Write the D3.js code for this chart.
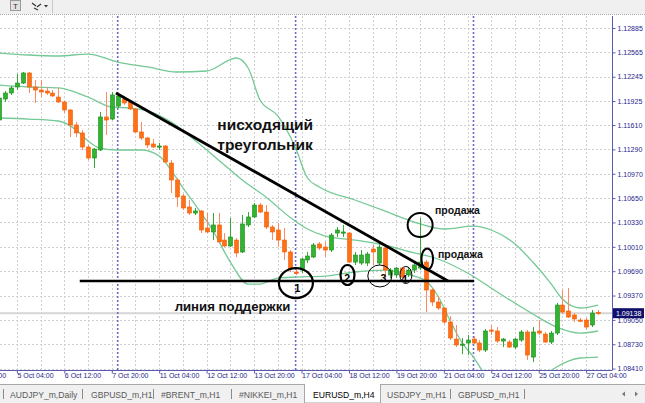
<!DOCTYPE html>
<html><head><meta charset="utf-8">
<script src="https://cdn.jsdelivr.net/npm/d3@7"></script>
<style>html,body{margin:0;padding:0;background:#fff;overflow:hidden}</style>
</head><body><svg id="c" width="645" height="403"></svg>
<script>
// ---------- DATA ----------
const firstBar = -20; // bar index of first candle (index 0 = 10 Oct 00:00, H4 bars)
const open = [
1.11676,1.11952,1.12031,1.12110,1.12162,1.12294,1.12110,1.12070,1.12057,1.12031,
1.11978,1.11913,1.11808,1.11611,1.11506,1.11321,1.11177,1.11282,1.11716,1.11689,
1.11860,1.11952,1.11913,1.11821,1.11519,1.11440,1.11361,1.11321,1.11335,1.11111,
1.10888,1.10678,1.10533,1.10454,1.10481,1.10257,1.10205,1.10297,1.10099,1.10021,
1.10099,1.09942,1.10297,1.10402,1.10559,1.10467,1.10270,1.10231,1.10099,1.09942,
1.09679,1.09705,1.09837,1.09876,1.10047,1.10007,1.09968,1.10191,1.10191,1.10191,
1.09810,1.09797,1.09797,1.09981,1.09797,1.09994,1.09640,1.09640,1.09731,1.09640,
1.09705,1.09731,1.09810,1.09443,1.09285,1.09206,1.09022,1.08798,1.08720,1.08746,
1.08798,1.08746,1.08654,1.08917,1.08904,1.08772,1.08759,1.08693,1.08785,1.08891,
1.08562,1.08904,1.08864,1.08759,1.08877,1.09245,1.09167,1.09114,1.09048,1.09048,
1.08983,1.09150];
const high = [
1.11978,1.12057,1.12123,1.12281,1.12307,1.12307,1.12202,1.12202,1.12110,1.12070,
1.12097,1.11926,1.11821,1.11650,1.11545,1.11348,1.11308,1.11781,1.12044,1.12044,
1.12031,1.11992,1.11939,1.11834,1.11650,1.11453,1.11427,1.11374,1.11348,1.11151,
1.10914,1.10704,1.10625,1.10520,1.10494,1.10454,1.10454,1.10454,1.10191,1.10389,
1.10126,1.10428,1.10467,1.10586,1.10586,1.10559,1.10297,1.10323,1.10257,1.09968,
1.09745,1.09863,1.09942,1.10060,1.10073,1.10073,1.10191,1.10270,1.10297,1.10205,
1.09942,1.09968,1.09942,1.10034,1.10060,1.10007,1.09731,1.09745,1.09745,1.09745,
1.09810,1.10389,1.09837,1.09469,1.09364,1.09219,1.09101,1.08983,1.08812,1.08851,
1.08838,1.08785,1.08930,1.08983,1.08956,1.08812,1.08785,1.08812,1.08917,1.08917,
1.08956,1.09048,1.08891,1.08904,1.09272,1.09443,1.09469,1.09140,1.09075,1.09075,
1.09180,1.09180];
const low = [
1.11663,1.11913,1.12005,1.12070,1.12149,1.12031,1.11900,1.11978,1.12005,1.11978,
1.11900,1.11768,1.11453,1.11453,1.11282,1.11151,1.11045,1.11269,1.11479,1.11676,
1.11834,1.11873,1.11808,1.11506,1.11413,1.11308,1.11308,1.11282,1.11111,1.10717,
1.10533,1.10494,1.10428,1.10428,1.10191,1.10191,1.10099,1.10060,1.10007,1.10007,
1.09876,1.09929,1.10270,1.10389,1.10454,1.10244,1.10099,1.10007,1.09837,1.09679,
1.09640,1.09666,1.09797,1.09863,1.09968,1.09876,1.09942,1.10139,1.10139,1.09797,
1.09771,1.09771,1.09758,1.09771,1.09771,1.09600,1.09600,1.09600,1.09600,1.09613,
1.09666,1.09705,1.09153,1.09232,1.09180,1.08996,1.08785,1.08693,1.08601,1.08588,
1.08733,1.08627,1.08627,1.08851,1.08746,1.08693,1.08680,1.08667,1.08759,1.08522,
1.08496,1.08851,1.08746,1.08733,1.08851,1.09127,1.09075,1.09022,1.09022,1.08917,
1.08956,1.09114];
const close = [
1.11965,1.12031,1.12097,1.12162,1.12294,1.12110,1.12070,1.12044,1.12031,1.11992,
1.11913,1.11808,1.11611,1.11506,1.11321,1.11177,1.11295,1.11716,1.11676,1.12005,
1.11992,1.11900,1.11821,1.11519,1.11440,1.11348,1.11321,1.11335,1.11124,1.10888,
1.10665,1.10520,1.10454,1.10481,1.10231,1.10205,1.10297,1.10073,1.10021,1.10139,
1.09929,1.10310,1.10402,1.10559,1.10467,1.10270,1.10205,1.10099,1.09942,1.09718,
1.09666,1.09850,1.09889,1.10034,1.09994,1.09968,1.10165,1.10231,1.10205,1.09810,
1.09902,1.09902,1.09915,1.09942,1.10007,1.09705,1.09705,1.09731,1.09613,1.09705,
1.09771,1.09810,1.09443,1.09285,1.09206,1.09022,1.08812,1.08720,1.08733,1.08785,
1.08746,1.08654,1.08904,1.08904,1.08772,1.08798,1.08693,1.08798,1.08891,1.08588,
1.08891,1.08877,1.08759,1.08877,1.09245,1.09153,1.09088,1.09062,1.09035,1.08956,
1.09140,1.09138];

// Bollinger bands, sampled at bar indices
const upperIdx = [-20,-15,-10,-5,0,5,10,15,20,22,24,27,30,32,34,40,45,50,55,60,63,67,70,73,75,78,81];
const upperVal = [1.12557,1.12530,1.12517,1.12543,1.12438,1.12373,1.12307,1.12320,1.12491,1.12360,1.11939,1.11729,1.11308,1.10914,1.10796,1.10625,1.10481,1.10336,1.10244,1.10283,1.10231,1.10047,1.09810,1.09534,1.09324,1.09206,1.09245];
const midIdx = [-20,-15,-10,-5,-1,2,5,9,14,18,21,25,29,32,35,40,45,50,54,59,64,70,74,78,81];
const midVal = [1.12136,1.12110,1.12097,1.11978,1.11847,1.11834,1.11795,1.11650,1.11348,1.11085,1.10888,1.10665,1.10402,1.10244,1.10152,1.10099,1.10034,1.09929,1.09850,1.09666,1.09416,1.09127,1.08956,1.08877,1.08904];
const lowerIdx = [-20,-15,-10,-7,-5,-3,0,4,7,9,11,13,16,19,22,24,27,30,35,40,45,50,52,54,56,58,60,62,65,70,72,74,76,78,81];
const lowerVal = [1.11703,1.11689,1.11663,1.11545,1.11400,1.11308,1.11282,1.11282,1.11203,1.11019,1.10783,1.10572,1.10231,1.09810,1.09521,1.09521,1.09600,1.09613,1.09626,1.09679,1.09705,1.09626,1.09561,1.09364,1.09048,1.08759,1.08562,1.08326,1.08155,1.08194,1.08326,1.08431,1.08509,1.08549,1.08562];

const priceTicks = [1.12885,1.12565,1.12245,1.11925,1.11610,1.11290,1.10970,1.10650,1.10330,1.10010,1.09690,1.09370,1.09050,1.08730,1.08410];
const timeIdx = [-25,-17,-9,-1,7,15,23,31,39,47,55,63,71,79];
const timeLabels = ["3 Oct 20:00","5 Oct 04:00","6 Oct 12:00","7 Oct 20:00","11 Oct 04:00","12 Oct 12:00","13 Oct 20:00","17 Oct 04:00","18 Oct 12:00","19 Oct 20:00","21 Oct 04:00","24 Oct 12:00","25 Oct 20:00","27 Oct 04:00"];
const weekSeparators = [0,30,60];
const lastPrice = 1.09138;
const tabs = ["AUDJPY_m,Daily","GBPUSD_m,H1","#BRENT_m,H1","#NIKKEI_m,H1","EURUSD_m,H4","USDJPY_m,H1","GBPUSD_m,H1"];
const activeTab = "EURUSD_m,H4";

// annotations (in data coordinates: bar index, price)
const triangleTop = [[-0.3,1.12031],[55.7,1.09561]];
const supportLine = [[-6.4,1.09561],[60.1,1.09561]];

// ---------- LAYOUT ----------
const svg = d3.select("#c");
const W = 645, H = 403;
const plot = {l:0, r:612, t:16, b:370};
const x = d3.scaleLinear().domain([0,60]).range([117.7,473.5]);
const y = d3.scaleLinear().domain([1.08410,1.12885]).range([368.6,28]);
const font = "'Liberation Sans', Arial, sans-serif";

svg.append("rect").attr("width",W).attr("height",H).attr("fill","#fff");

// toolbar
svg.append("rect").attr("x",0).attr("y",0).attr("width",W).attr("height",14).attr("fill","#f0f0f0");
svg.append("line").attr("x1",0).attr("x2",W).attr("y1",14.5).attr("y2",14.5).attr("stroke","#a8a8a8").attr("stroke-dasharray","1,1");
svg.append("rect").attr("x",10.5).attr("y",0.5).attr("width",10).attr("height",10).attr("fill","#e2e2e2").attr("stroke","#9a9a9a");
svg.append("text").attr("x",15.5).attr("y",9).attr("text-anchor","middle").attr("font-family",font).attr("font-size",8).attr("fill","#333").text("T");
const ic = svg.append("g").attr("stroke","#333").attr("stroke-width",1.2);
ic.append("line").attr("x1",32).attr("y1",3).attr("x2",36).attr("y2",6);
ic.append("line").attr("x1",37).attr("y1",7).attr("x2",41).attr("y2",4);
ic.append("line").attr("x1",34).attr("y1",8).attr("x2",38).attr("y2",10);
svg.append("path").attr("d","M44,5 L48,5 L46,7.5 Z").attr("fill","#333");
svg.append("line").attr("x1",52.5).attr("x2",52.5).attr("y1",0).attr("y2",13).attr("stroke","#c8c8c8");

const clip = svg.append("clipPath").attr("id","pc").append("rect")
  .attr("x",plot.l).attr("y",plot.t).attr("width",plot.r-plot.l).attr("height",plot.b-plot.t);
const g = svg.append("g").attr("clip-path","url(#pc)");

// grid
g.selectAll(".hg").data(priceTicks).enter().append("line")
  .attr("x1",0).attr("x2",plot.r).attr("y1",d=>Math.round(y(d))+0.5).attr("y2",d=>Math.round(y(d))+0.5)
  .attr("stroke","#cfcfcf").attr("stroke-dasharray","2,2");
const vgrid = d3.range(-21, 82, 4);
g.selectAll(".vg").data(vgrid).enter().append("line")
  .attr("y1",plot.t).attr("y2",plot.b).attr("x1",d=>Math.round(x(d))+0.5).attr("x2",d=>Math.round(x(d))+0.5)
  .attr("stroke","#cfcfcf").attr("stroke-dasharray","2,2");

// bid line
g.append("line").attr("x1",0).attr("x2",plot.r).attr("y1",y(lastPrice)).attr("y2",y(lastPrice))
  .attr("stroke","#d6d6d6").attr("stroke-width",2);

// week separators
g.selectAll(".sep").data(weekSeparators).enter().append("line")
  .attr("x1",d=>x(d)).attr("x2",d=>x(d)).attr("y1",plot.t).attr("y2",plot.b)
  .attr("stroke","#6b6bc8").attr("stroke-width",1.6).attr("stroke-dasharray","2,2");

// bands
const bandLine = d3.line().x(d=>x(d[0])).y(d=>y(d[1])).curve(d3.curveMonotoneX);
[[upperIdx,upperVal],[midIdx,midVal],[lowerIdx,lowerVal]].forEach(([ix,v])=>{
  g.append("path").attr("d",bandLine(ix.map((k,i)=>[k,v[i]])))
   .attr("fill","none").attr("stroke","#74c995").attr("stroke-width",1.3);
});

// candles
const bars = open.map((o,i)=>({i:firstBar+i,o,h:high[i],l:low[i],c:close[i]}));
const cg = g.append("g");
bars.forEach(b=>{
  const up = b.c >= b.o;
  const cx = Math.round(x(b.i));
  cg.append("line").attr("x1",cx+0.5).attr("x2",cx+0.5).attr("y1",y(b.h)).attr("y2",y(b.l))
    .attr("stroke", up ? "#35a835" : "#ff8a62").attr("stroke-width",1);
  const top = y(Math.max(b.o,b.c)), bot = y(Math.min(b.o,b.c));
  cg.append("rect").attr("x",cx-1.5).attr("y",top).attr("width",4).attr("height",Math.max(1.2,bot-top))
    .attr("fill", up ? "#2fb52f" : "#ff7118").attr("stroke", up ? "#1d861d" : "#f35a00").attr("stroke-width",0.6);
});

// annotations
const ann = g.append("g");
ann.append("line").attr("x1",x(triangleTop[0][0])).attr("y1",y(triangleTop[0][1]))
  .attr("x2",x(triangleTop[1][0])).attr("y2",y(triangleTop[1][1])).attr("stroke","#000").attr("stroke-width",2.8);
ann.append("line").attr("x1",x(supportLine[0][0])).attr("y1",y(supportLine[0][1]))
  .attr("x2",x(supportLine[1][0])).attr("y2",y(supportLine[1][1])).attr("stroke","#000").attr("stroke-width",2.6);

// ellipses: [barIndex, price, rx, ry, strokeWidth]
const ellipses = [
  [30.05,1.09534,17,15,2.2],
  [38.75,1.09640,7,10,2.2],
  [44.2,1.09627,12,11,1],
  [48.6,1.09640,6,8.5,1],
  [51.0,1.10297,12.5,12,2],
  [52.2,1.09850,5.8,10.5,2]
];
ellipses.forEach(e=>{
  ann.append("ellipse").attr("cx",x(e[0])).attr("cy",y(e[1])).attr("rx",e[2]).attr("ry",e[3])
    .attr("fill","none").attr("stroke","#000").attr("stroke-width",e[4]);
});
const nums = [["1",30.3,1.09470],["2",38.7,1.09600],["3",44.8,1.09600],["4",48.3,1.09587]];
nums.forEach(n=>{
  ann.append("text").attr("x",x(n[1])).attr("y",y(n[2])+4).attr("text-anchor","middle")
    .attr("font-family",font).attr("font-weight","bold").attr("font-size",10.5).attr("fill","#000").text(n[0]);
});
const texts = [
  ["нисходящий",16.8,1.11545,15.5],
  ["треугольник",16.8,1.11282,15.5],
  ["линия поддержки",9.6,1.09166,13.2],
  ["продажа",53.5,1.10440,10.5],
  ["продажа",54.0,1.09858,10.5]
];
texts.forEach(t=>{
  ann.append("text").attr("x",x(t[1])).attr("y",y(t[2])).attr("font-family",font)
    .attr("font-weight","bold").attr("font-size",t[3]).attr("fill","#111").text(t[0]);
});

// right price axis
svg.append("line").attr("x1",612.5).attr("x2",612.5).attr("y1",plot.t).attr("y2",plot.b).attr("stroke","#5a5ab4");
const ya = svg.append("g").attr("transform","translate(612.5,0)")
  .call(d3.axisRight(y).tickValues(priceTicks).tickFormat(d3.format(".5f")).tickSize(3));
ya.select(".domain").remove();
ya.selectAll(".tick line").attr("stroke","#5a5ab4");
ya.selectAll("text").attr("font-family",font).attr("font-size",7).attr("fill","#1e1e8c").attr("x",5);

// last price label
svg.append("rect").attr("x",613).attr("y",y(lastPrice)-5).attr("width",31).attr("height",10).attr("fill","#10106a");
svg.append("text").attr("x",616).attr("y",y(lastPrice)+2.6).attr("font-family",font).attr("font-size",7)
  .attr("fill","#fff").text(d3.format(".5f")(lastPrice));

// bottom time axis
svg.append("line").attr("x1",0).attr("x2",612.5).attr("y1",370.5).attr("y2",370.5).attr("stroke","#5a5ab4");
const xa = svg.append("g").attr("transform","translate(0,370.5)")
  .call(d3.axisBottom(x).tickValues(timeIdx).tickFormat((d,i)=>timeLabels[i]).tickSize(3));
xa.select(".domain").remove();
xa.selectAll(".tick line").attr("stroke","#5a5ab4");
xa.selectAll("text").attr("font-family",font).attr("font-size",7).attr("fill","#1e1e8c")
  .attr("text-anchor","start").attr("x",0).attr("y",3).attr("dy","0.71em");

// tab bar
svg.append("rect").attr("x",0).attr("y",384).attr("width",W).attr("height",19).attr("fill","#f0f0f0");
svg.append("line").attr("x1",0).attr("x2",W).attr("y1",384.5).attr("y2",384.5).attr("stroke","#a8a8a8");
const tabX = [10,91,161,239,313,387,458];
const sepX = [3,82,153,231,450,524];
svg.append("rect").attr("x",304.5).attr("y",384.5).attr("width",76).attr("height",18.5).attr("fill","#fff").attr("stroke","#a8a8a8");
svg.append("line").attr("x1",305).attr("x2",380).attr("y1",384.5).attr("y2",384.5).attr("stroke","#fff");
sepX.forEach(sx=>svg.append("line").attr("x1",sx+0.5).attr("x2",sx+0.5).attr("y1",389).attr("y2",399).attr("stroke","#8a8a8a"));
tabs.forEach((t,i)=>{
  svg.append("text").attr("x",tabX[i]).attr("y",397.5).attr("font-family",font).attr("font-size",8.6)
    .attr("fill", t===activeTab ? "#000" : "#5a5a5a").text(t);
});
svg.append("path").attr("d","M625,391.5 L622,394 L625,396.5 Z").attr("fill","#777");
svg.append("path").attr("d","M635,391.5 L638,394 L635,396.5 Z").attr("fill","#777");
</script></body></html>
